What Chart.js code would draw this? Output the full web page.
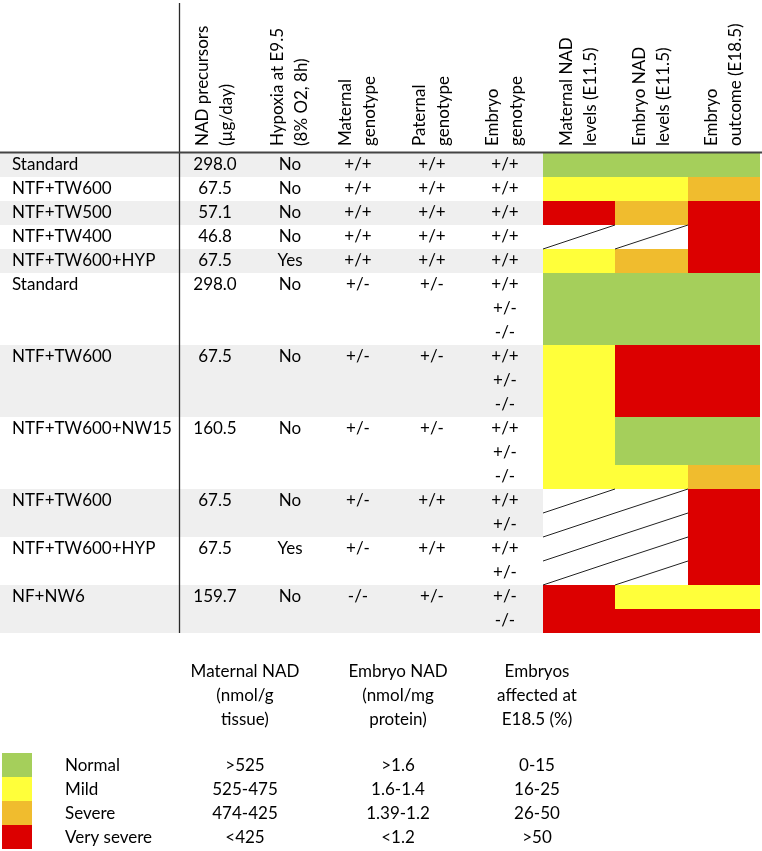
<!DOCTYPE html>
<html><head><meta charset="utf-8">
<script src="https://cdn.jsdelivr.net/npm/chart.js@4"></script>
<style>html,body{margin:0;padding:0;background:#fff}#wrap{position:relative;width:762px;height:851px}</style>
</head><body><div id="wrap"><canvas id="c" width="762" height="851"></canvas></div>
<script>
// ---------- DATA ----------
const rowLabels = ['Standard','NTF+TW600','NTF+TW500','NTF+TW400','NTF+TW600+HYP','Standard','NTF+TW600','NTF+TW600+NW15','NTF+TW600','NTF+TW600+HYP','NF+NW6'];
const precursors = [298.0, 67.5, 57.1, 46.8, 67.5, 298.0, 67.5, 160.5, 67.5, 67.5, 159.7];
const hypoxia = ['No','No','No','No','Yes','No','No','No','No','Yes','No'];
const maternalGenotype = ['+/+','+/+','+/+','+/+','+/+','+/-','+/-','+/-','+/-','+/-','-/-'];
const paternalGenotype = ['+/+','+/+','+/+','+/+','+/+','+/-','+/-','+/-','+/+','+/+','+/-'];
const embryoGenotypes = [['+/+'],['+/+'],['+/+'],['+/+'],['+/+'],['+/+','+/-','-/-'],['+/+','+/-','-/-'],['+/+','+/-','-/-'],['+/+','+/-'],['+/+','+/-'],['+/-','-/-']];
// severity: 0 Normal, 1 Mild, 2 Severe, 3 Very severe, null = not determined
const maternalNAD = [[0],[1],[3],[null],[1],[0,0,0],[1,1,1],[1,1,1],[null,null],[null,null],[3,3]];
const embryoNAD   = [[0],[1],[2],[null],[2],[0,0,0],[3,3,3],[0,0,1],[null,null],[null,null],[1,3]];
const outcome     = [[0],[2],[3],[3],[3],[0,0,0],[3,3,3],[0,0,2],[3,3],[3,3],[1,3]];
const headers = [['NAD precursors','(µg/day)'],['Hypoxia at E9.5','(8% O2, 8h)'],['Maternal','genotype'],['Paternal','genotype'],['Embryo','genotype'],['Maternal NAD','levels (E11.5)'],['Embryo NAD','levels (E11.5)'],['Embryo','outcome (E18.5)']];
const severityLabels = ['Normal','Mild','Severe','Very severe'];
const legendHeaders = [['Maternal NAD','(nmol/g','tissue)'],['Embryo NAD','(nmol/mg','protein)'],['Embryos','affected at','E18.5 (%)']];
const maternalRanges = ['>525','525-475','474-425','<425'];
const embryoRanges = ['>1.6','1.6-1.4','1.39-1.2','<1.2'];
const affectedRanges = ['0-15','16-25','26-50','>50'];

// ---------- LAYOUT / STYLE ----------
const L = {
  W: 762, H: 851, top: 153, rowH: 24, nRows: 29,
  labelX: 12, textCols: [215, 290, 358, 432, 505], levelEdges: [543, 615, 688, 760],
  headerBottom: 146, headerLineGap: 24,
  ruleX: 179.5, ruleTop: 3,
  legendRow0: 25, swatch: [2, 32], legendLabelX: 65, legendCols: [245, 398, 537],
  legendHeaderRow: 21.6
};
const severityColors = ['#A5CF5B', '#FFFF3A', '#F0BC2E', '#DC0000'];
const stripeColor = '#EFEFEF';
const FONT = '17px Lato, "Open Sans", sans-serif';
const INK = '#000';

// ---------- BUILD ----------
const groupStart = []; let acc = 0;
embryoGenotypes.forEach(g => { groupStart.push(acc); acc += g.length; });
const bodyRows = acc;

const stripeData = [];
embryoGenotypes.forEach((g, gi) => { if (gi % 2 === 0) g.forEach((_, k) => stripeData.push({x: [0, L.levelEdges[0]], y: groupStart[gi] + k + 0.5})); });

const cellData = []; const hatchData = [];
[maternalNAD, embryoNAD, outcome].forEach((col, ci) => col.forEach((g, gi) => g.forEach((lv, k) => {
  const y = groupStart[gi] + k, x0 = L.levelEdges[ci], x1 = L.levelEdges[ci + 1];
  if (lv === null) hatchData.push({x: x0, y: y + 1}, {x: x1, y: y}, {x: x1, y: null});
  else cellData.push({x: [x0, x1], y: y + 0.5, level: lv});
})));
const swatchData = severityLabels.map((s, i) => ({x: [L.swatch[0], L.swatch[1]], y: L.legendRow0 + i + 0.5, level: i}));

const barBase = {type: 'bar', indexAxis: 'y', grouped: false, borderWidth: 0, inflateAmount: 0, barPercentage: 1, categoryPercentage: 1};

const tablePlugin = {
  id: 'tableText',
  afterDraw(chart) {
    const ctx = chart.ctx, xs = chart.scales.x, ys = chart.scales.y;
    const X = v => xs.getPixelForValue(v), Y = v => ys.getPixelForValue(v);
    ctx.save();
    ctx.fillStyle = INK; ctx.font = FONT; ctx.textBaseline = 'middle';
    // rotated headers
    const hx = L.textCols.concat([0,1,2].map(i => (L.levelEdges[i] + L.levelEdges[i + 1]) / 2));
    headers.forEach((lines, i) => {
      lines.forEach((t, j) => {
        ctx.save();
        ctx.translate(X(hx[i]) + (j - (lines.length - 1) / 2) * L.headerLineGap, L.headerBottom);
        ctx.rotate(-Math.PI / 2);
        ctx.textAlign = 'left';
        ctx.fillText(t, 0, 0);
        ctx.restore();
      });
    });
    // body text
    rowLabels.forEach((lab, gi) => {
      const yc = Y(groupStart[gi] + 0.5);
      ctx.textAlign = 'left'; ctx.fillText(lab, X(L.labelX), yc);
      ctx.textAlign = 'center';
      ctx.fillText(precursors[gi].toFixed(1), X(L.textCols[0]), yc);
      ctx.fillText(hypoxia[gi], X(L.textCols[1]), yc);
      ctx.fillText(maternalGenotype[gi], X(L.textCols[2]), yc);
      ctx.fillText(paternalGenotype[gi], X(L.textCols[3]), yc);
      embryoGenotypes[gi].forEach((e, k) => ctx.fillText(e, X(L.textCols[4]), Y(groupStart[gi] + k + 0.5)));
    });
    // rules
    ctx.strokeStyle = '#2a2a2a';
    ctx.lineWidth = 1.3;
    ctx.beginPath(); ctx.moveTo(X(L.ruleX), L.ruleTop); ctx.lineTo(X(L.ruleX), Y(bodyRows)); ctx.stroke();
    ctx.strokeStyle = '#444'; ctx.lineWidth = 2;
    ctx.beginPath(); ctx.moveTo(X(0), Y(0) - 0.5); ctx.lineTo(X(L.W), Y(0) - 0.5); ctx.stroke();
    // legend
    ctx.textAlign = 'center';
    legendHeaders.forEach((lines, i) => lines.forEach((t, j) => ctx.fillText(t, X(L.legendCols[i]), Y(L.legendHeaderRow + j))));
    severityLabels.forEach((s, i) => {
      const yc = Y(L.legendRow0 + i + 0.5) + 1;
      ctx.textAlign = 'left'; ctx.fillText(s, X(L.legendLabelX), yc);
      ctx.textAlign = 'center';
      ctx.fillText(maternalRanges[i], X(L.legendCols[0]), yc);
      ctx.fillText(embryoRanges[i], X(L.legendCols[1]), yc);
      ctx.fillText(affectedRanges[i], X(L.legendCols[2]), yc);
    });
    ctx.restore();
  }
};

new Chart(document.getElementById('c'), {
  type: 'bar',
  data: {
    datasets: [
      Object.assign({}, barBase, {data: stripeData, backgroundColor: stripeColor, order: 3}),
      Object.assign({}, barBase, {data: cellData, backgroundColor: c => severityColors[c.raw ? c.raw.level : 0], order: 2}),
      Object.assign({}, barBase, {data: swatchData, backgroundColor: c => severityColors[c.raw ? c.raw.level : 0], order: 2}),
      {type: 'line', indexAxis: 'x', data: hatchData, borderColor: '#222', borderWidth: 1, pointRadius: 0, spanGaps: false, fill: false, order: 1}
    ]
  },
  options: {
    indexAxis: 'y',
    responsive: false, animation: false, events: [], devicePixelRatio: 1,
    layout: {padding: {top: L.top, bottom: L.H - L.top - L.nRows * L.rowH, left: 0, right: 0}},
    plugins: {legend: {display: false}, tooltip: {enabled: false}},
    scales: {
      x: {type: 'linear', min: 0, max: L.W, display: false, offset: false, grid: {offset: false}},
      y: {type: 'linear', min: 0, max: L.nRows, reverse: true, display: false, offset: false, grid: {offset: false}, ticks: {stepSize: 1}}
    }
  },
  plugins: [tablePlugin]
});
</script></body></html>
